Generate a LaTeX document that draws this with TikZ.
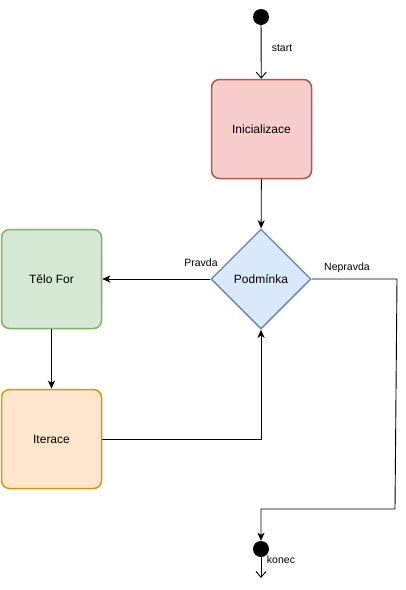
\documentclass[tikz,border=0pt]{standalone}
\usepackage{fontspec}
\setmainfont{Liberation Sans}
\usetikzlibrary{arrows.meta,shapes.geometric}
\definecolor{initfill}{HTML}{F8CECC}
\definecolor{initline}{HTML}{B85450}
\definecolor{bodyfill}{HTML}{D5E8D4}
\definecolor{bodyline}{HTML}{82B366}
\definecolor{condfill}{HTML}{DAE8FC}
\definecolor{condline}{HTML}{6C8EBF}
\definecolor{iterfill}{HTML}{FFE6CC}
\definecolor{iterline}{HTML}{D79B00}
\begin{document}
\begin{tikzpicture}[x=1pt,y=-1pt,
		font=\fontsize{12}{14}\selectfont,
		block/.style={draw,rectangle,rounded corners=8pt,line width=1.5pt,minimum width=100pt,minimum height=99pt,inner sep=0pt},
		cond/.style={draw,diamond,aspect=1,line width=1.5pt,minimum width=100pt,minimum height=100pt,inner sep=0pt,fill=condfill,draw=condline},
		dot/.style={circle,fill=black,minimum size=16pt,inner sep=0pt},
		lbl/.style={font=\fontsize{10.5}{12}\selectfont,inner sep=0pt},
		arr/.style={line width=0.9pt,-{Stealth[length=8pt,width=7pt,inset=2pt]}},
		openarr/.style={line width=0.9pt,-{Straight Barb[length=6pt,width=10pt]}}]
		
		\useasboundingbox (0,0) rectangle (405,590);
		
		\node[dot] (start) at (261,17) {};
		\node[block,fill=initfill,draw=initline] (init) at (261.5,129) {Inicializace};
		\node[cond] (podm) at (261,279) {Podmínka};
		\node[block,fill=bodyfill,draw=bodyline] (telo) at (51.5,279) {Tělo For};
		\node[block,fill=iterfill,draw=iterline] (iter) at (51.5,439) {Iterace};
		\node[dot] (konec) at (261,549) {};
		
		\node[lbl] (startlbl) at (282,48) {start};
		\node[lbl] (pravdalbl) at (201,263) {Pravda};
		\node[lbl] (nepravdalbl) at (347,268) {Nepravda};
		\node[lbl] (koneclbl) at (281,560) {konec};
		
		\coordinate (ne) at (397,279);
		\coordinate (se) at (395,509);
		\coordinate (sw) at (261,509);
		\coordinate (endtip) at (261,578);
		
		\draw[openarr] (start) -- (init);
		\draw[arr] (init) -- (podm);
		\draw[arr] (podm.west) -- (telo.east);
		\draw[arr] (telo) -- (iter);
		\draw[arr] (iter.east) -| (podm.south);
		\draw[arr] (podm.east) -- (ne) -- (se) -- (sw) -- (konec);
		\draw[openarr] (konec) -- (endtip);
		
	\end{tikzpicture}
\end{document}
